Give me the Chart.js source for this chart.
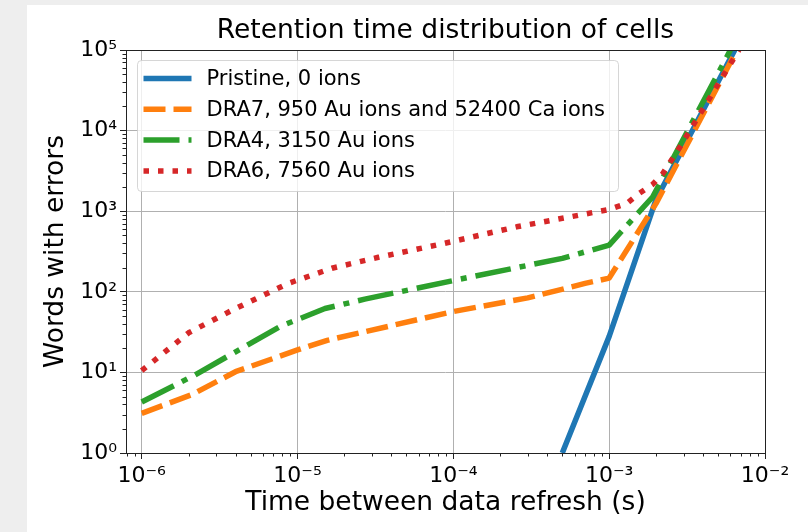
<!DOCTYPE html>
<html>
<head>
<meta charset="utf-8">
<title>Retention time distribution of cells</title>
<script src="https://cdn.jsdelivr.net/npm/chart.js@4.4.0/dist/chart.umd.min.js"></script>
<style>
    html, body { margin: 0; padding: 0; width: 808px; height: 532px; overflow: hidden; background: #eeeeee; }
    #panel { position: absolute; left: 27px; top: 5px; right: 0; bottom: 0; background: #ffffff; }
    #wrap { position: absolute; left: 0; top: 0; width: 808px; height: 532px; }
</style>
</head>
<body>
<div id="panel"></div>
<div id="wrap"><canvas id="retentionChart"></canvas></div>
<script>
// ===== DATA =====
const pristineTime = [5e-4, 1e-3, 2e-3, 6.4e-3];
const pristineWords = [1, 28, 1400, 1e5];

const dra7Time = [1e-6, 2.1e-6, 4e-6, 1e-5, 1.55e-5, 1e-4, 3e-4, 7e-4, 1e-3, 2e-3, 6.6e-3];
const dra7Words = [3.1, 5.3, 10.2, 19, 25, 57, 84, 127, 148, 1250, 1e5];

const dra4Time = [1e-6, 2.2e-6, 7.7e-6, 1.5e-5, 2.7e-5, 1e-4, 5e-4, 1e-3, 1.9e-3, 6e-3];
const dra4Words = [4.3, 9.3, 37, 62, 81, 138, 260, 380, 1500, 1e5];

const dra6Time = [1e-6, 2e-6, 3.8e-6, 8.7e-6, 1.66e-5, 3.3e-5, 8.2e-5, 2.55e-4, 1e-3, 1.3e-3, 1.55e-3, 1.9e-3, 2.2e-3, 2.85e-3, 6.8e-3];
const dra6Words = [10.5, 31, 59, 127, 196, 268, 388, 640, 1050, 1250, 1650, 2150, 2900, 6300, 1e5];

const seriesLabels = [
    'Pristine, 0 ions',
    'DRA7, 950 Au ions and 52400 Ca ions',
    'DRA4, 3150 Au ions',
    'DRA6, 7560 Au ions'
];

const xTickValues = [1e-6, 1e-5, 1e-4, 1e-3, 1e-2];
const xTickLabels = ['10⁻⁶', '10⁻⁵', '10⁻⁴', '10⁻³', '10⁻²'];
const yTickValues = [1, 10, 100, 1000, 10000, 100000];
const yTickLabels = ['10⁰', '10¹', '10²', '10³', '10⁴', '10⁵'];

const LINE_WIDTH = 5.5;

const toPoints = (xs, ys) => xs.map((x, i) => ({ x: x, y: ys[i] }));

Chart.defaults.font.family = '"DejaVu Sans", sans-serif';
Chart.defaults.color = '#000';

// ===== INSET LEGEND (matplotlib style, upper left) =====
const insetLegend = {
    id: 'insetLegend',
    afterDatasetsDraw(chart) {
        const { ctx, chartArea: a } = chart;
        const bx = a.left + 11.5, by = a.top + 10.5, bw = 481, bh = 131;
        ctx.save();
        ctx.beginPath();
        ctx.roundRect(bx, by, bw, bh, 4);
        ctx.fillStyle = 'rgba(255, 255, 255, 0.8)';
        ctx.fill();
        ctx.strokeStyle = 'rgba(204, 204, 204, 0.8)';
        ctx.lineWidth = 1;
        ctx.stroke();

        ctx.font = '21px "DejaVu Sans"';
        ctx.textBaseline = 'middle';
        ctx.textAlign = 'left';
        chart.data.datasets.forEach((ds, i) => {
            const cy = by + 18 + i * 30.8;
            ctx.save();
            ctx.strokeStyle = ds.borderColor;
            ctx.lineWidth = LINE_WIDTH;
            ctx.lineCap = 'butt';
            ctx.setLineDash(ds.borderDash || []);
            ctx.beginPath();
            ctx.moveTo(bx + 6, cy);
            ctx.lineTo(bx + 54, cy);
            ctx.stroke();
            ctx.restore();
            ctx.fillStyle = '#000';
            ctx.fillText(ds.label, bx + 69, cy + 1);
        });
        ctx.restore();
    }
};

// ===== FRAME + MINOR LOG TICKS =====
const frameAndMinorTicks = {
    id: 'frameAndMinorTicks',
    afterDraw(chart) {
        const { ctx, chartArea: a, scales } = chart;
        const x = scales.x, y = scales.y;
        ctx.save();
        ctx.strokeStyle = '#222';
        ctx.lineWidth = 1;
        ctx.beginPath();
        for (let e = -7; e <= -3; e++) {
            for (let k = 2; k <= 9; k++) {
                const v = k * Math.pow(10, e);
                if (v < x.min || v > x.max) continue;
                const px = Math.round(x.getPixelForValue(v)) + 0.5;
                ctx.moveTo(px, a.bottom);
                ctx.lineTo(px, a.bottom + 3.5);
            }
        }
        for (let e = 0; e <= 4; e++) {
            for (let k = 2; k <= 9; k++) {
                const v = k * Math.pow(10, e);
                const py = Math.round(y.getPixelForValue(v)) + 0.5;
                ctx.moveTo(a.left, py);
                ctx.lineTo(a.left - 3.5, py);
            }
        }
        ctx.stroke();
        ctx.strokeRect(Math.round(a.left) + 0.5, Math.round(a.top) + 0.5,
            Math.round(a.right - a.left), Math.round(a.bottom - a.top));
        ctx.restore();
    }
};

const ctx = document.getElementById('retentionChart');
new Chart(ctx, {
    type: 'line',
    data: {
        datasets: [{
            label: seriesLabels[0],
            data: toPoints(pristineTime, pristineWords),
            borderColor: '#1f77b4',
            order: 3
        }, {
            label: seriesLabels[1],
            data: toPoints(dra7Time, dra7Words),
            borderColor: '#ff7f0e',
            borderDash: [22, 8],
            order: 2
        }, {
            label: seriesLabels[2],
            data: toPoints(dra4Time, dra4Words),
            borderColor: '#2ca02c',
            borderDash: [36, 9, 6, 9],
            order: 1
        }, {
            label: seriesLabels[3],
            data: toPoints(dra6Time, dra6Words),
            borderColor: '#d62728',
            borderDash: [5.5, 9],
            order: 0
        }]
    },
    options: {
        responsive: true,
        maintainAspectRatio: false,
        animation: false,
        layout: { padding: { left: 0, right: 43, top: 0, bottom: 0 } },
        datasets: {
            line: {
                borderWidth: LINE_WIDTH,
                pointRadius: 0,
                pointHoverRadius: 0,
                tension: 0,
                fill: false,
                clip: 0,
                borderCapStyle: 'butt',
                borderJoinStyle: 'round'
            }
        },
        plugins: {
            legend: { display: false },
            tooltip: { enabled: false },
            title: {
                display: true,
                fullSize: false,
                text: 'Retention time distribution of cells',
                color: '#000',
                font: { size: 26.5, weight: 'normal' },
                padding: { top: 15, bottom: 3.2 }
            }
        },
        scales: {
            x: {
                type: 'logarithmic',
                min: 7.93e-7,
                max: 1e-2,
                afterBuildTicks: scale => {
                    scale.ticks = xTickValues.map(v => ({ value: v }));
                },
                afterFit: scale => { scale.height = 79; },
                ticks: {
                    autoSkip: false,
                    maxRotation: 0,
                    padding: 4,
                    color: '#000',
                    font: { size: 22 },
                    callback: value => {
                        const i = xTickValues.indexOf(value);
                        return i >= 0 ? xTickLabels[i] : '';
                    }
                },
                grid: {
                    color: '#b0b0b0',
                    lineWidth: 1,
                    drawTicks: true,
                    tickLength: 6,
                    tickColor: '#222',
                    tickWidth: 1
                },
                border: { display: false },
                title: {
                    display: true,
                    text: 'Time between data refresh (s)',
                    color: '#000',
                    font: { size: 26.5 },
                    padding: { top: 0, bottom: 13 }
                }
            },
            y: {
                type: 'logarithmic',
                min: 1,
                max: 1e5,
                afterBuildTicks: scale => {
                    scale.ticks = yTickValues.map(v => ({ value: v }));
                },
                afterFit: scale => { scale.width = 126; },
                ticks: {
                    autoSkip: false,
                    padding: 3,
                    color: '#000',
                    font: { size: 22 },
                    callback: value => {
                        const i = yTickValues.indexOf(value);
                        return i >= 0 ? yTickLabels[i] : '';
                    }
                },
                grid: {
                    color: '#b0b0b0',
                    lineWidth: 1,
                    drawTicks: true,
                    tickLength: 6,
                    tickColor: '#222',
                    tickWidth: 1
                },
                border: { display: false },
                title: {
                    display: true,
                    text: 'Words with errors',
                    color: '#000',
                    font: { size: 26.5 },
                    padding: { top: 40, bottom: 0 }
                }
            }
        }
    },
    plugins: [insetLegend, frameAndMinorTicks]
});
</script>
</body>
</html>
